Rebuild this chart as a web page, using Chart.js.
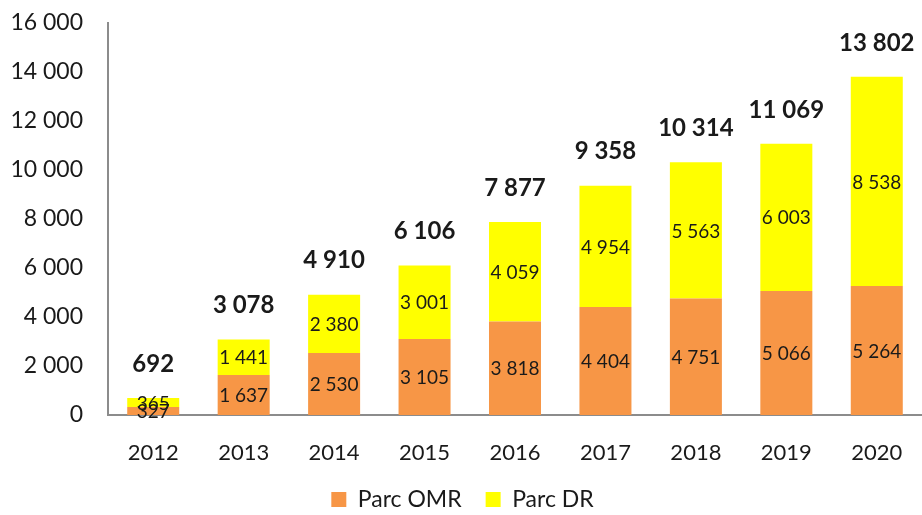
<!DOCTYPE html>
<html>
<head>
<meta charset="utf-8">
<script src="https://cdn.jsdelivr.net/npm/chart.js@4/dist/chart.umd.min.js"></script>
<style>
  html, body { margin: 0; padding: 0; background: #fff; }
  #wrap { width: 922px; height: 515px; }
</style>
</head>
<body>
<div id="wrap"><canvas id="parcChart" width="922" height="515"></canvas></div>
<script>
const years = ['2012', '2013', '2014', '2015', '2016', '2017', '2018', '2019', '2020'];
const parcOMR = [327, 1637, 2530, 3105, 3818, 4404, 4751, 5066, 5264];
const parcDR = [365, 1441, 2380, 3001, 4059, 4954, 5563, 6003, 8538];
const yTicks = [0, 2000, 4000, 6000, 8000, 10000, 12000, 14000, 16000];

const FONT = 'Lato, "DejaVu Sans", sans-serif';

// 1234 -> "1 234"
const fmt = n => String(n).replace(/\B(?=(\d{3})+(?!\d))/g, ' ');

const barLabels = {
  id: 'barLabels',
  afterDatasetsDraw(chart) {
    const ctx = chart.ctx;
    ctx.save();
    ctx.fillStyle = '#1a1a1a';
    ctx.textAlign = 'center';
    ctx.textBaseline = 'middle';
    ctx.font = '19px ' + FONT;
    chart.data.datasets.forEach((ds, i) => {
      chart.getDatasetMeta(i).data.forEach((bar, j) => {
        ctx.fillText(fmt(ds.data[j]), bar.x, (bar.y + bar.base) / 2 + 1);
      });
    });
    // totals above each stack
    ctx.font = 'bold 24px ' + FONT;
    const top = chart.getDatasetMeta(1).data;
    top.forEach((bar, j) => {
      const total = parcOMR[j] + parcDR[j];
      ctx.fillText(fmt(total), bar.x, bar.y - 34);
    });
    ctx.restore();
  }
};

new Chart(document.getElementById('parcChart').getContext('2d'), {
  type: 'bar',
  data: {
    labels: years,
    datasets: [
      { label: 'Parc OMR', data: parcOMR, backgroundColor: '#F79646' },
      { label: 'Parc DR', data: parcDR, backgroundColor: '#FFFF00' }
    ]
  },
  options: {
    responsive: false,
    animation: false,
    layout: { padding: { top: 23, left: 0, right: -3, bottom: -6 } },
    datasets: { bar: { barPercentage: 0.575, categoryPercentage: 1 } },
    scales: {
      x: {
        stacked: true,
        grid: { display: false, drawTicks: false },
        border: { display: true, color: '#8c8c8c', width: 2 },
        ticks: { color: '#1a1a1a', font: { family: FONT, size: 22 }, padding: 25 },
        afterFit: s => { s.height = 49; s.paddingLeft = 0; s.paddingRight = 0; }
      },
      y: {
        stacked: true,
        min: 0,
        max: 16000,
        grid: { display: false, drawTicks: false },
        border: { display: true, color: '#8c8c8c', width: 2 },
        afterBuildTicks: s => { s.ticks = yTicks.map(v => ({ value: v })); },
        ticks: {
          color: '#1a1a1a',
          font: { family: FONT, size: 23 },
          padding: 25,
          callback: v => fmt(v)
        },
        afterFit: s => { s.width = 108; s.paddingTop = 0; s.paddingBottom = 0; }
      }
    },
    plugins: {
      tooltip: { enabled: false },
      legend: {
        position: 'bottom',
        labels: {
          color: '#1a1a1a',
          font: { family: FONT, size: 23 },
          boxWidth: 15,
          boxHeight: 15,
          padding: 24
        }
      }
    }
  },
  plugins: [barLabels]
});
</script>
</body>
</html>
